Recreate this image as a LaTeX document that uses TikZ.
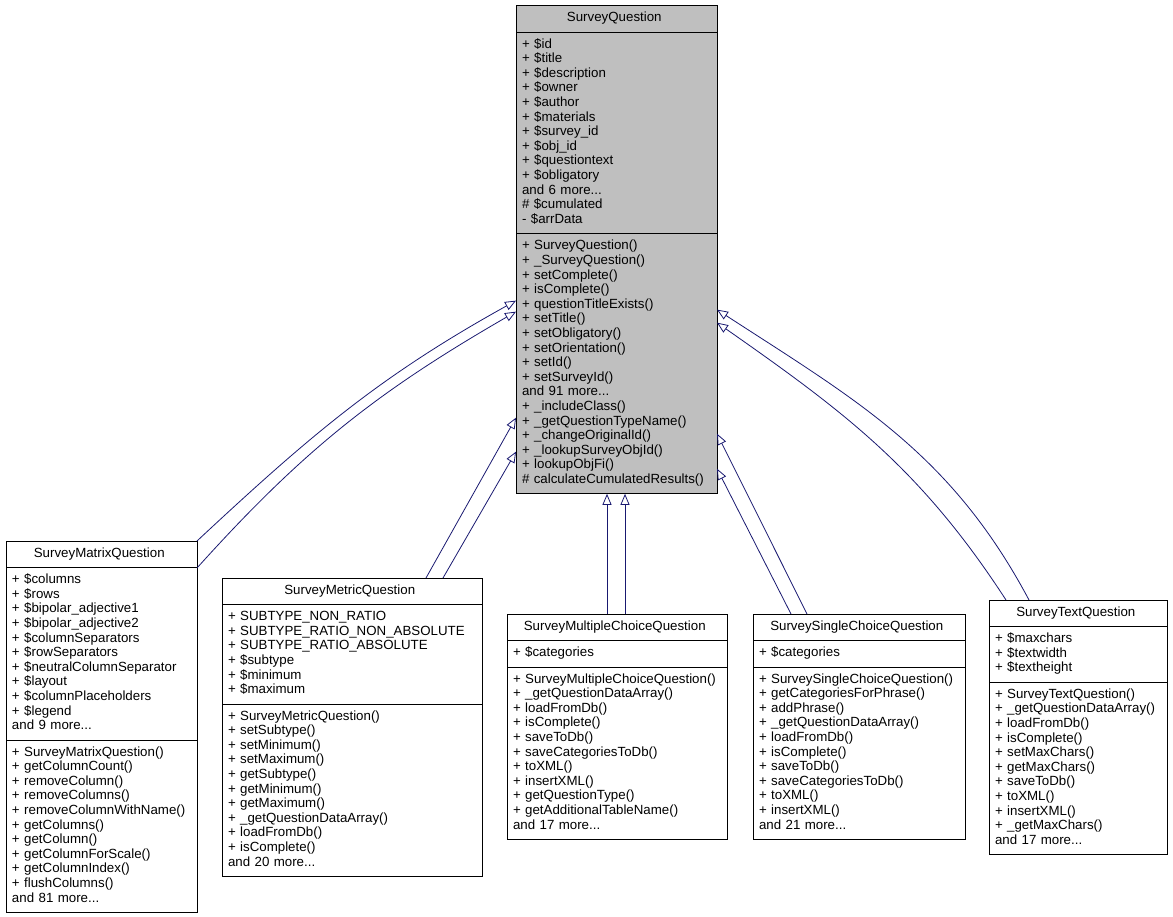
\documentclass[tikz,border=0pt]{standalone}
\usepackage{fontspec}
\setmainfont{Liberation Sans}
\usepackage{xcolor}
\usepackage{tikz}
\usetikzlibrary{shapes.multipart}
\usetikzlibrary{positioning}
\usetikzlibrary{arrows.meta}
\tikzset{>=stealth}
\definecolor{edgeblue}{HTML}{191970}
\definecolor{basegray}{HTML}{BFBFBF}
\newcommand{\ctitle}[1]{\hfill#1\hfill\null}

\begin{document}
\begin{tikzpicture}[x=1pt,y=-1pt,
      cls/.style={rectangle split,
      rectangle split parts=3,
      draw,
      line width=0.9pt,
      outer sep=0pt,
      anchor=north west,
      inner xsep=6pt,
      inner ysep=5.5pt,
      align=left,
      font=\fontsize{13.3}{14.6}\selectfont,
      execute at begin node={\parindent=0pt\strut},
      execute at end node={\strut}},
      inherit/.style={draw=edgeblue,
      line width=0.8pt,
      -{Triangle[open,length=11pt,width=9pt]}}]
    \useasboundingbox (0,0) rectangle (1173,917);
    %% Base class
    \node [cls, fill=basegray, text width=189pt] at (516,5.5) (SQ)
      {\ctitle{SurveyQuestion}
       \nodepart{two}+ \$id\\+ \$title\\+ \$description\\+ \$owner\\+ \$author\\+ \$materials\\+ \$survey\_id\\+ \$obj\_id\\+ \$questiontext\\+ \$obligatory\\and 6 more...\\\# \$cumulated\\- \$arrData
       \nodepart{three}+ SurveyQuestion()\\+ \_SurveyQuestion()\\+ setComplete()\\+ isComplete()\\+ questionTitleExists()\\+ setTitle()\\+ setObligatory()\\+ setOrientation()\\+ setId()\\+ setSurveyId()\\and 91 more...\\+ \_includeClass()\\+ \_getQuestionTypeName()\\+ \_changeOriginalId()\\+ \_lookupSurveyObjId()\\+ lookupObjFi()\\\# calculateCumulatedResults()};
    %% Derived classes
    \node [cls, text width=179pt] at (6,541) (SMatQ)
      {\ctitle{SurveyMatrixQuestion}
       \nodepart{two}+ \$columns\\+ \$rows\\+ \$bipolar\_adjective1\\+ \$bipolar\_adjective2\\+ \$columnSeparators\\+ \$rowSeparators\\+ \$neutralColumnSeparator\\+ \$layout\\+ \$columnPlaceholders\\+ \$legend\\and 9 more...
       \nodepart{three}+ SurveyMatrixQuestion()\\+ getColumnCount()\\+ removeColumn()\\+ removeColumns()\\+ removeColumnWithName()\\+ getColumns()\\+ getColumn()\\+ getColumnForScale()\\+ getColumnIndex()\\+ flushColumns()\\and 81 more...};
    \node [cls, text width=248pt] at (222,578) (SMetQ)
      {\ctitle{SurveyMetricQuestion}
       \nodepart{two}+ SUBTYPE\_NON\_RATIO\\+ SUBTYPE\_RATIO\_NON\_ABSOLUTE\\+ SUBTYPE\_RATIO\_ABSOLUTE\\+ \$subtype\\+ \$minimum\\+ \$maximum
       \nodepart{three}+ SurveyMetricQuestion()\\+ setSubtype()\\+ setMinimum()\\+ setMaximum()\\+ getSubtype()\\+ getMinimum()\\+ getMaximum()\\+ \_getQuestionDataArray()\\+ loadFromDb()\\+ isComplete()\\and 20 more...};
    \node [cls, text width=208pt] at (507,614) (SMCQ)
      {\ctitle{SurveyMultipleChoiceQuestion}
       \nodepart{two}+ \$categories
       \nodepart{three}+ SurveyMultipleChoiceQuestion()\\+ \_getQuestionDataArray()\\+ loadFromDb()\\+ isComplete()\\+ saveToDb()\\+ saveCategoriesToDb()\\+ toXML()\\+ insertXML()\\+ getQuestionType()\\+ getAdditionalTableName()\\and 17 more...};
    \node [cls, text width=200pt] at (753,614) (SSCQ)
      {\ctitle{SurveySingleChoiceQuestion}
       \nodepart{two}+ \$categories
       \nodepart{three}+ SurveySingleChoiceQuestion()\\+ getCategoriesForPhrase()\\+ addPhrase()\\+ \_getQuestionDataArray()\\+ loadFromDb()\\+ isComplete()\\+ saveToDb()\\+ saveCategoriesToDb()\\+ toXML()\\+ insertXML()\\and 21 more...};
    \node [cls, text width=166pt] at (989,600) (STQ)
      {\ctitle{SurveyTextQuestion}
       \nodepart{two}+ \$maxchars\\+ \$textwidth\\+ \$textheight
       \nodepart{three}+ SurveyTextQuestion()\\+ \_getQuestionDataArray()\\+ loadFromDb()\\+ isComplete()\\+ setMaxChars()\\+ getMaxChars()\\+ saveToDb()\\+ toXML()\\+ insertXML()\\+ \_getMaxChars()\\and 17 more...};
    %%
    %% Inheritance
    \draw [inherit] (SMatQ.north east) to [out=43,in=209] ([yshift=-51pt]SQ.west);
    \draw [inherit] ([yshift=-27pt]SMatQ.north east) to [out=48,in=210] ([yshift=-62pt]SQ.west);
    \draw [inherit] ([xshift=74pt]SMetQ.north) -- ([yshift=-168pt]SQ.west);
    \draw [inherit] ([xshift=91pt]SMetQ.north) -- ([yshift=-202pt]SQ.west);
    \draw [inherit] ([xshift=-10pt]SMCQ.north) -- ([xshift=-9.5pt]SQ.south);
    \draw [inherit] ([xshift=8pt]SMCQ.north) -- ([xshift=8.5pt]SQ.south);
    \draw [inherit] ([xshift=-68pt]SSCQ.north) -- ([yshift=-219pt]SQ.east);
    \draw [inherit] ([xshift=-52pt]SSCQ.north) -- ([yshift=-184pt]SQ.east);
    \draw [inherit] ([xshift=-49pt]STQ.north) to [out=118,in=-33] ([yshift=-60pt]SQ.east);
    \draw [inherit] ([xshift=-72pt]STQ.north) to [out=123,in=-35] ([yshift=-73pt]SQ.east);
  \end{tikzpicture}
\end{document}
